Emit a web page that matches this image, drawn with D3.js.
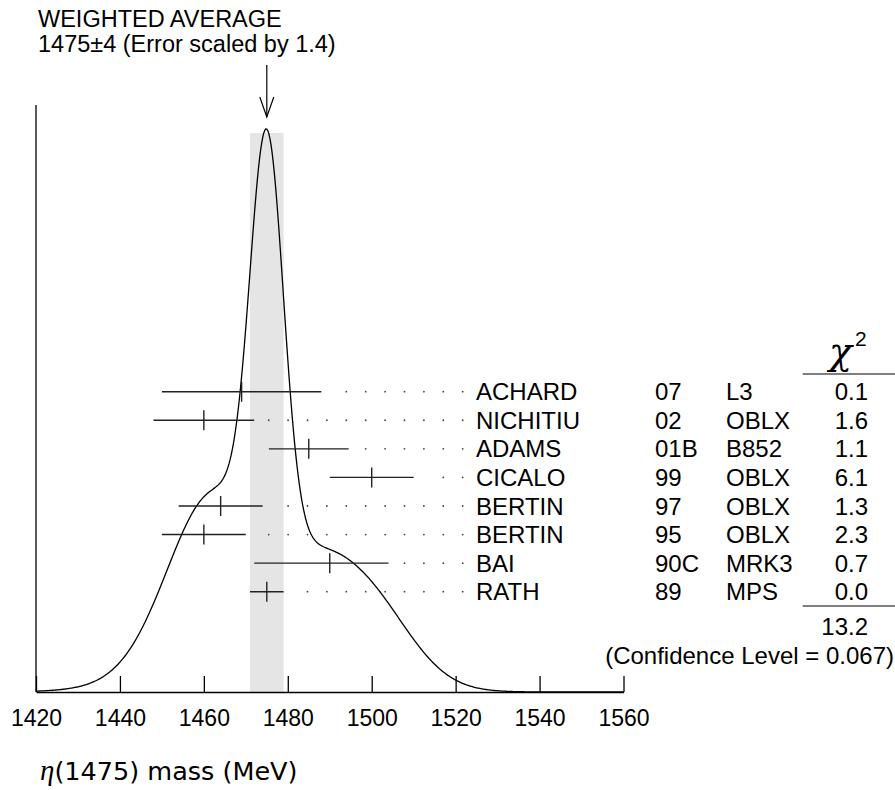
<!DOCTYPE html>
<html>
<head>
<meta charset="utf-8">
<script src="https://cdn.jsdelivr.net/npm/d3@7"></script>
<style>
body { margin: 0; background: #fff; }
text { font-family: "Liberation Sans", Arial, Helvetica, sans-serif; fill: #000; }
</style>
</head>
<body>
<svg id="chart" width="895" height="790"></svg>
<script>
// measurements, one entry per row (top to bottom)
var authors = ["ACHARD", "NICHITIU", "ADAMS", "CICALO", "BERTIN", "BERTIN", "BAI", "RATH"];
var years = ["07", "02", "01B", "99", "97", "95", "90C", "89"];
var experiments = ["L3", "OBLX", "B852", "OBLX", "OBLX", "OBLX", "MRK3", "MPS"];
var masses = [1469, 1460, 1485, 1500, 1464, 1460, 1490, 1475];
var errLow = [19, 12, 9.5, 10, 10, 10, 18, 4];
var errHigh = [19, 12, 9.5, 10, 10, 10, 14, 4];
var chi2 = ["0.1", "1.6", "1.1", "6.1", "1.3", "2.3", "0.7", "0.0"];
var chi2Total = "13.2";
var confLevel = "(Confidence Level = 0.067)";
var avgMass = 1475, avgErr = 4;
var xTicks = [1420, 1440, 1460, 1480, 1500, 1520, 1540, 1560];

var svg = d3.select("#chart");
var fs = 24; // text size of table

var x = d3.scaleLinear().domain([1420, 1560]).range([36, 623.5]);
var row = d3.scaleLinear().domain([0, authors.length - 1]).range([391.7, 591.7]);
var baseY = 692;

// ideogram: each measurement is a gaussian of area ~ 1/sigma
function ideogram(m) {
	var s = 0;
	for (var i = 0; i < masses.length; i++) {
		var sig = m < masses[i] ? errLow[i] : errHigh[i];
		var sAvg = (errLow[i] + errHigh[i]) / 2;
		s += Math.exp(-(m - masses[i]) * (m - masses[i]) / (2 * sig * sig)) / (sAvg * sAvg);
	}
	return s;
}
var curve = d3.range(1420, 1560.01, 0.25).map(function(m){ return [m, ideogram(m)]; });
var y = d3.scaleLinear().domain([0, d3.max(curve, function(d){ return d[1]; })]).range([baseY, 129]);

// weighted average band
svg.append("rect")
	.attr("x", x(avgMass - avgErr))
	.attr("y", 133)
	.attr("width", x(avgMass + avgErr) - x(avgMass - avgErr))
	.attr("height", baseY - 133)
	.attr("fill", "#e5e5e5");

// the curve
svg.append("path")
	.datum(curve)
	.attr("d", d3.line().x(function(d){ return x(d[0]); }).y(function(d){ return y(d[1]); }))
	.attr("fill", "none")
	.attr("stroke", "#000")
	.attr("stroke-width", 1.3);

// left vertical line
svg.append("line")
	.attr("x1", x(1420)).attr("x2", x(1420))
	.attr("y1", 105).attr("y2", baseY)
	.attr("stroke", "#000").attr("stroke-width", 1.3);

// x axis, ticks pointing up
var axis = svg.append("g")
	.attr("transform", "translate(0," + baseY + ")")
	.call(d3.axisBottom(x).tickValues(xTicks).tickSizeInner(-16).tickSizeOuter(0).tickPadding(18)
		.tickFormat(d3.format("d")));
axis.select(".domain").attr("stroke-width", 1.3);
axis.selectAll(".tick line").attr("stroke-width", 1.3);
axis.selectAll(".tick text")
	.style("font-family", "'Liberation Sans', Arial, sans-serif")
	.style("font-size", "23px")
	.attr("fill", "#000");

// x label
var xl = svg.append("text").attr("x", 40).attr("y", 780);
xl.append("tspan").text("\u03b7").style("font-family", "'Liberation Serif', serif").style("font-style", "italic").style("font-size", "29px");
xl.append("tspan").text("(1475) mass (MeV)").style("font-family", "'DejaVu Sans', sans-serif").style("font-size", "25.5px");

// title and arrow
svg.append("text").attr("x", 38).attr("y", 27).style("font-size", "23.5px").text("WEIGHTED AVERAGE");
svg.append("text").attr("x", 38).attr("y", 52).style("font-size", "23.5px").text("1475\u00b14 (Error scaled by 1.4)");
var ax = x(avgMass);
svg.append("line").attr("x1", ax).attr("x2", ax).attr("y1", 65).attr("y2", 117)
	.attr("stroke", "#000").attr("stroke-width", 1.2);
svg.append("polyline")
	.attr("points", (ax - 7) + ",97 " + ax + ",117 " + (ax + 7) + ",97")
	.attr("fill", "none").attr("stroke", "#000").attr("stroke-width", 1.2);

// error bars
var idx = d3.range(authors.length);
var bars = svg.append("g");
bars.selectAll("line.err").data(idx).enter().append("line")
	.attr("class", "err")
	.attr("x1", function(i){ return x(masses[i] - errLow[i]); })
	.attr("x2", function(i){ return x(masses[i] + errHigh[i]); })
	.attr("y1", function(i){ return row(i); })
	.attr("y2", function(i){ return row(i); })
	.attr("stroke", "#222").attr("stroke-width", 1.4);
bars.selectAll("line.mid").data(idx).enter().append("line")
	.attr("class", "mid")
	.attr("x1", function(i){ return x(masses[i]); })
	.attr("x2", function(i){ return x(masses[i]); })
	.attr("y1", function(i){ return row(i) - 10; })
	.attr("y2", function(i){ return row(i) + 10; })
	.attr("stroke", "#222").attr("stroke-width", 1.4);

// dotted leaders on a fixed grid, only right of the bar
var dotEnd = 462.7, dotStep = 19.4;
idx.forEach(function(i){
	var right = x(masses[i] + errHigh[i]);
	for (var dx = dotEnd; dx > right + 12; dx -= dotStep) {
		svg.append("circle").attr("cx", dx).attr("cy", row(i)).attr("r", 0.9).attr("fill", "#444");
	}
});

// table
var tbl = svg.append("g").style("font-size", fs + "px");
function col(arr, xx, anchor) {
	tbl.selectAll(null).data(arr).enter().append("text")
		.attr("x", xx)
		.attr("y", function(d, i){ return row(i) + 8.6; })
		.attr("text-anchor", anchor)
		.text(function(d){ return d; });
}
col(authors, 476, "start");
col(years, 655, "start");
col(experiments, 726, "start");
col(chi2, 868, "end");

// chi2 header
svg.append("text").attr("x", 829).attr("y", 364)
	.style("font-family", "'DejaVu Serif', serif").style("font-style", "italic").style("font-size", "38px").text("\u03c7");
svg.append("text").attr("x", 855).attr("y", 346).style("font-size", "21px").text("2");
[374, 606].forEach(function(ly){
	svg.append("line").attr("x1", 802.7).attr("x2", 895).attr("y1", ly).attr("y2", ly)
		.attr("stroke", "#000").attr("stroke-width", 1.2);
});
svg.append("text").attr("x", 868).attr("y", row(7) + 35 + 8.6).attr("text-anchor", "end")
	.style("font-size", fs + "px").text(chi2Total);
svg.append("text").attr("x", 894).attr("y", 655 + 8.6).attr("text-anchor", "end")
	.style("font-size", fs + "px").text(confLevel);
</script>
</body>
</html>
